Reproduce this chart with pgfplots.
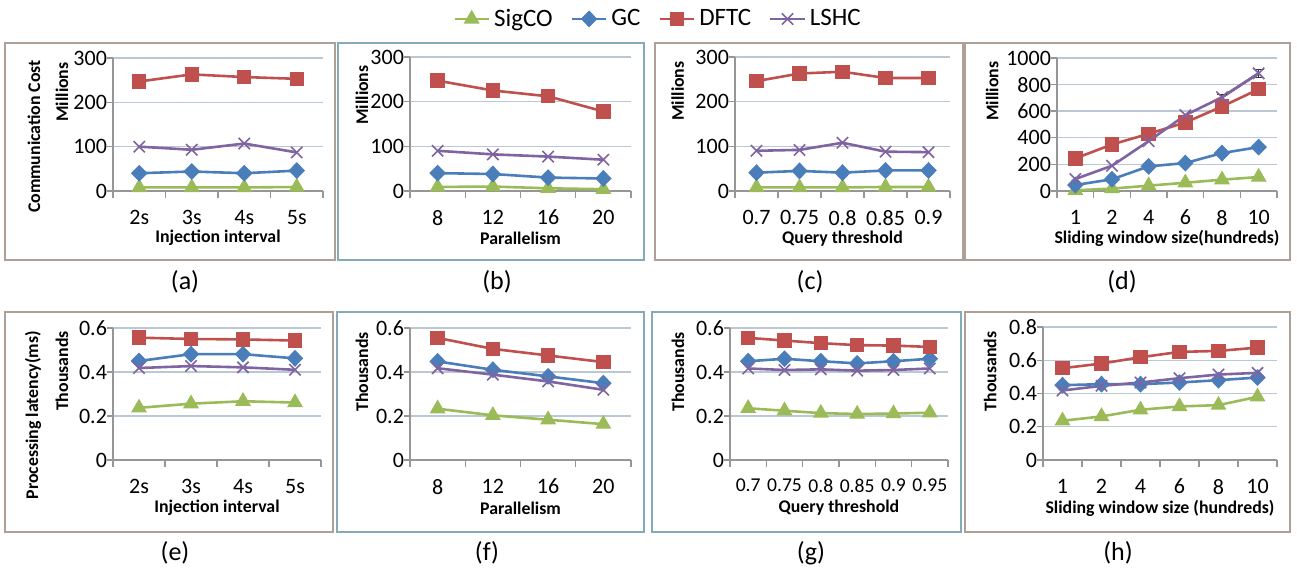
\documentclass[border=0pt]{standalone}
\usepackage{fontspec}
\setmainfont{Carlito}
\usepackage{pgfplots}
\pgfplotsset{compat=1.18}
\definecolor{cSig}{RGB}{155,187,89}
\definecolor{cGC}{RGB}{74,126,187}
\definecolor{cDFTC}{RGB}{192,80,77}
\definecolor{cLSHC}{RGB}{128,100,162}
\definecolor{axisgray}{RGB}{150,150,150}
\definecolor{gridc}{RGB}{185,200,212}
\definecolor{frBrown}{RGB}{175,160,150}
\definecolor{frTeal}{RGB}{135,170,185}
\tikzset{
 mylab/.style={rotate=90, anchor=center, inner sep=0pt, font=\bfseries\fontsize{8.9}{10}\selectfont},
 xl/.style={anchor=center, inner sep=0pt, font=\bfseries\fontsize{8.9}{10}\selectfont},
}
\pgfplotsset{
 panel/.style={
  scale only axis, anchor=south west,
  axis x line*=bottom, axis y line*=left,
  axis line style={-, draw=axisgray, line width=0.7pt},
  ymajorgrids, grid style={gridc, line width=0.7pt},
  ymin=0,
  tick align=outside,
  major tick length=3pt,
  minor tick length=3.5pt,
  xtick style={draw=none},
  minor x tick style={draw=axisgray, line width=0.7pt},
  ytick style={draw=axisgray, line width=0.7pt},
  tick label style={font=\fontsize{11}{12}\selectfont, text=black},
  /pgf/number format/assume math mode=true,
  /pgf/number format/1000 sep={},
  xticklabel style={yshift=-3pt},
  yticklabel style={xshift=3.5pt},
  clip=false,
 },
 sig/.style={color=cSig, line width=1.3pt, mark=triangle*, mark size=4pt, mark options={solid, fill=cSig, line width=0.6pt}},
 gc/.style={color=cGC, line width=1.3pt, mark=diamond*, mark size=3.8pt, mark options={solid, fill=cGC, xscale=1.3, line width=0.6pt}},
 dftc/.style={color=cDFTC, line width=1.3pt, mark=square*, mark size=3.3pt, mark options={solid, fill=cDFTC, line width=0.6pt}},
 lshc/.style={color=cLSHC, line width=1.3pt, mark=x, mark size=4pt, mark options={solid, line width=0.8pt}},
}
\begin{document}
\begin{tikzpicture}
\useasboundingbox (0,0) rectangle (648.5pt,285.5pt);
% (a)
\begin{axis}[panel, at={(56.5pt,190pt)}, width=105pt, height=66.5pt,
  xmin=0.5, xmax=4.5, xtick={1,2,3,4}, xticklabels={2s,3s,4s,5s},
  minor xtick={0.5,1.5,2.5,3.5,4.5},
  ymax=300, ytick={0,100,200,300}]
\addplot[sig] coordinates {(1,8)(2,8)(3,8)(4,9)};
\addplot[gc] coordinates {(1,40)(2,44)(3,40)(4,46)};
\addplot[dftc] coordinates {(1,247)(2,263)(3,257)(4,253)};
\addplot[lshc] coordinates {(1,100)(2,93)(3,107)(4,87)};
\node[xl] at (axis description cs:0.5,-0.355) {Injection interval};
\node[mylab] at (axis description cs:-0.243,0.744) {Millions};
\node[mylab] at (axis description cs:-0.376,0.41) {Communication Cost};
\end{axis}
% (b)
\begin{axis}[panel, at={(205pt,190pt)}, width=110.5pt, height=67pt,
  xmin=0.5, xmax=4.5, xtick={1,2,3,4}, xticklabels={8,12,16,20},
  minor xtick={0.5,1.5,2.5,3.5,4.5},
  ymax=300, ytick={0,100,200,300},
  legend columns=4,
  legend style={at={(axis description cs:1.127,1.284)}, anchor=center, draw=none, fill=none,
    font=\fontsize{12.5}{14}\selectfont, /tikz/every even column/.append style={column sep=7pt}}]
\addplot[sig] coordinates {(1,9)(2,10)(3,6)(4,4)};
\addplot[gc] coordinates {(1,40)(2,38)(3,30)(4,28)};
\addplot[dftc] coordinates {(1,247)(2,225)(3,212)(4,178)};
\addplot[lshc] coordinates {(1,90)(2,82)(3,77)(4,70)};
\legend{SigCO,GC,DFTC,LSHC}
\node[xl] at (axis description cs:0.5,-0.355) {Parallelism};
\node[mylab] at (axis description cs:-0.217,0.716) {Millions};
\end{axis}
% (c)
\begin{axis}[panel, at={(367.5pt,190pt)}, width=107.5pt, height=67pt,
  xmin=0.5, xmax=5.5, xtick={1,2,3,4,5}, xticklabels={0.7,0.75,0.8,0.85,0.9},
  minor xtick={0.5,1.5,2.5,3.5,4.5,5.5},
  ymax=300, ytick={0,100,200,300}]
\addplot[sig] coordinates {(1,8)(2,8)(3,8)(4,9)(5,9)};
\addplot[gc] coordinates {(1,41)(2,45)(3,41)(4,46)(5,46)};
\addplot[dftc] coordinates {(1,246)(2,263)(3,267)(4,253)(5,253)};
\addplot[lshc] coordinates {(1,90)(2,92)(3,108)(4,88)(5,87)};
\node[xl] at (axis description cs:0.5,-0.355) {Query threshold};
\node[mylab] at (axis description cs:-0.267,0.746) {Millions};
\end{axis}
% (d)
\begin{axis}[panel, at={(528.5pt,190pt)}, width=110pt, height=66.5pt,
  xmin=0.5, xmax=6.5, xtick={1,2,3,4,5,6}, xticklabels={1,2,4,6,8,10},
  minor xtick={0.5,1.5,2.5,3.5,4.5,5.5,6.5},
  ymax=1000, ytick={0,200,400,600,800,1000}]
\addplot[sig] coordinates {(1,5)(2,18)(3,40)(4,62)(5,85)(6,105)};
\addplot[gc] coordinates {(1,45)(2,88)(3,185)(4,210)(5,285)(6,330)};
\addplot[dftc] coordinates {(1,245)(2,350)(3,430)(4,515)(5,635)(6,765)};
\addplot[lshc] coordinates {(1,90)(2,190)(3,375)(4,570)(5,705)(6,885)};
\addplot[color=cLSHC, line width=1.3pt, mark=none, forget plot,
  error bars/.cd, y dir=both, y explicit,
  error bar style={black!80, line width=0.5pt},
  error mark options={rotate=90, mark size=2.5pt, black!80}]
  coordinates {(5,705) +- (0,20) (6,885) +- (0,32)};
\node[xl] at (axis description cs:0.5,-0.355) {Sliding window size(hundreds)};
\node[mylab] at (axis description cs:-0.295,0.75) {Millions};
\end{axis}
% (e)
\begin{axis}[panel, at={(56.5pt,55.5pt)}, width=104pt, height=66pt,
  xmin=0.5, xmax=4.5, xtick={1,2,3,4}, xticklabels={2s,3s,4s,5s},
  minor xtick={0.5,1.5,2.5,3.5,4.5},
  ymax=0.6, ytick={0,0.2,0.4,0.6}]
\addplot[sig] coordinates {(1,0.237)(2,0.256)(3,0.267)(4,0.261)};
\addplot[gc] coordinates {(1,0.450)(2,0.481)(3,0.481)(4,0.462)};
\addplot[dftc] coordinates {(1,0.556)(2,0.550)(3,0.548)(4,0.543)};
\addplot[lshc] coordinates {(1,0.418)(2,0.427)(3,0.421)(4,0.410)};
\node[xl] at (axis description cs:0.5,-0.364) {Injection interval};
\node[mylab] at (axis description cs:-0.245,0.674) {Thousands};
\node[mylab] at (axis description cs:-0.385,0.34) {Processing latency(ms)};
\end{axis}
% (f)
\begin{axis}[panel, at={(205pt,55.5pt)}, width=110.5pt, height=66pt,
  xmin=0.5, xmax=4.5, xtick={1,2,3,4}, xticklabels={8,12,16,20},
  minor xtick={0.5,1.5,2.5,3.5,4.5},
  ymax=0.6, ytick={0,0.2,0.4,0.6}]
\addplot[sig] coordinates {(1,0.233)(2,0.203)(3,0.183)(4,0.163)};
\addplot[gc] coordinates {(1,0.448)(2,0.410)(3,0.380)(4,0.349)};
\addplot[dftc] coordinates {(1,0.555)(2,0.505)(3,0.475)(4,0.445)};
\addplot[lshc] coordinates {(1,0.417)(2,0.388)(3,0.357)(4,0.319)};
\node[xl] at (axis description cs:0.5,-0.364) {Parallelism};
\node[mylab] at (axis description cs:-0.217,0.667) {Thousands};
\end{axis}
% (g)
\begin{axis}[panel, at={(365pt,55.5pt)}, width=109pt, height=66pt,
  xmin=0.5, xmax=6.5, xtick={1,2,3,4,5,6}, xticklabels={0.7,0.75,0.8,0.85,0.9,0.95},
  minor xtick={0.5,1.5,2.5,3.5,4.5,5.5,6.5},
  xticklabel style={font=\fontsize{9.8}{11}\selectfont},
  ymax=0.6, ytick={0,0.2,0.4,0.6}]
\addplot[sig] coordinates {(1,0.235)(2,0.224)(3,0.213)(4,0.209)(5,0.211)(6,0.215)};
\addplot[gc] coordinates {(1,0.449)(2,0.460)(3,0.449)(4,0.439)(5,0.449)(6,0.460)};
\addplot[dftc] coordinates {(1,0.555)(2,0.543)(3,0.531)(4,0.522)(5,0.520)(6,0.514)};
\addplot[lshc] coordinates {(1,0.416)(2,0.409)(3,0.412)(4,0.406)(5,0.409)(6,0.416)};
\node[xl] at (axis description cs:0.5,-0.364) {Query threshold};
\node[mylab] at (axis description cs:-0.239,0.667) {Thousands};
\end{axis}
% (h)
\begin{axis}[panel, at={(521.5pt,55.5pt)}, width=117pt, height=66.5pt,
  xmin=0.5, xmax=6.5, xtick={1,2,3,4,5,6}, xticklabels={1,2,4,6,8,10},
  minor xtick={0.5,1.5,2.5,3.5,4.5,5.5,6.5},
  ymax=0.8, ytick={0,0.2,0.4,0.6,0.8}]
\addplot[sig] coordinates {(1,0.236)(2,0.262)(3,0.302)(4,0.322)(5,0.330)(6,0.380)};
\addplot[gc] coordinates {(1,0.450)(2,0.456)(3,0.456)(4,0.466)(5,0.480)(6,0.496)};
\addplot[dftc] coordinates {(1,0.552)(2,0.580)(3,0.618)(4,0.650)(5,0.656)(6,0.676)};
\addplot[lshc] coordinates {(1,0.418)(2,0.446)(3,0.466)(4,0.492)(5,0.514)(6,0.524)};
\node[xl] at (axis description cs:0.5,-0.364) {Sliding window size (hundreds)};
\node[mylab] at (axis description cs:-0.226,0.667) {Thousands};
\end{axis}
% frames
\draw[frBrown, line width=0.8pt] (2.5pt,155.5pt) rectangle (167.5pt,264pt);
\draw[frTeal, line width=0.8pt] (169pt,155.5pt) rectangle (322pt,264pt);
\draw[frBrown, line width=0.8pt] (327.5pt,155.5pt) rectangle (481.5pt,264pt);
\draw[frBrown, line width=0.8pt] (482.5pt,155.5pt) rectangle (645pt,264pt);
\draw[frBrown, line width=0.8pt] (2.5pt,19.5pt) rectangle (166.5pt,129.5pt);
\draw[frTeal, line width=0.8pt] (168.5pt,19.5pt) rectangle (322pt,129.5pt);
\draw[frTeal, line width=0.8pt] (326pt,19.5pt) rectangle (480.5pt,129.5pt);
\draw[frBrown, line width=0.8pt] (482.5pt,19.5pt) rectangle (645pt,129.5pt);
% captions
\begin{scope}[every node/.style={font=\fontsize{13}{15}\selectfont}]
\node at (92.5pt,144.5pt) {(a)};
\node at (248.5pt,144.5pt) {(b)};
\node at (405pt,144.5pt) {(c)};
\node at (561pt,144.5pt) {(d)};
\node at (87.5pt,9pt) {(e)};
\node at (243.5pt,9pt) {(f)};
\node at (405.5pt,9pt) {(g)};
\node at (559pt,9pt) {(h)};
\end{scope}
\end{tikzpicture}
\end{document}
